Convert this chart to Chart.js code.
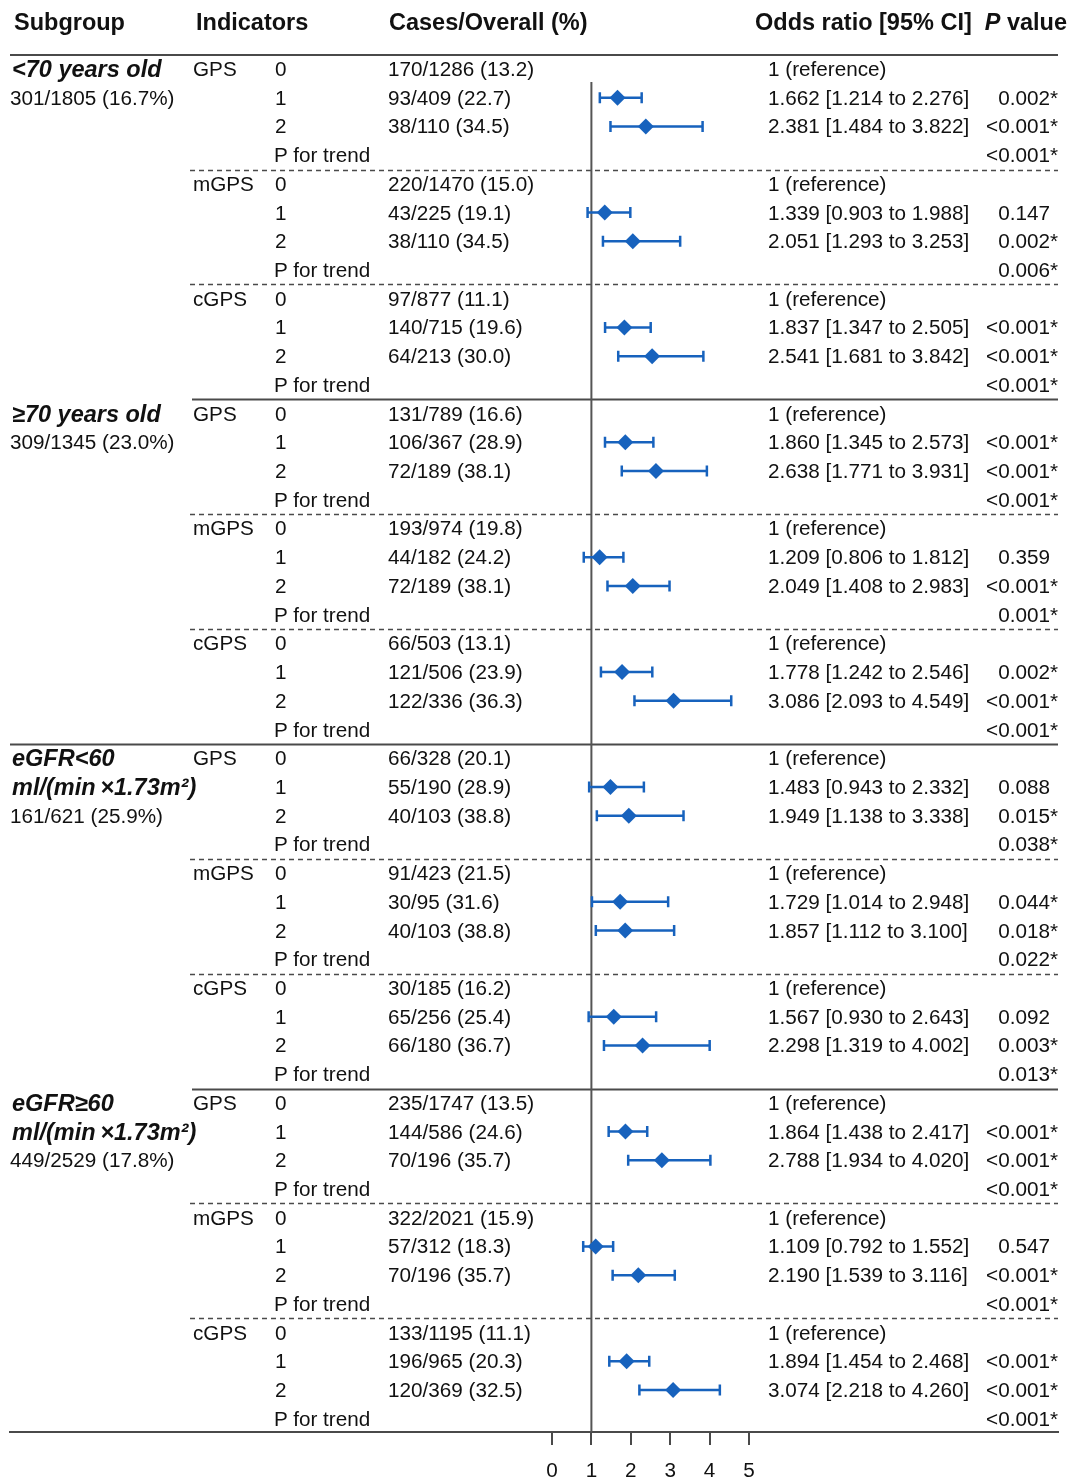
<!DOCTYPE html>
<html>
<head>
<meta charset="utf-8">
<script src="https://cdn.jsdelivr.net/npm/chart.js@4.4.0/dist/chart.umd.min.js"></script>
<style>
  html, body { margin: 0; padding: 0; background: #fff; }
  #wrap { position: relative; width: 1074px; height: 1479px; overflow: hidden;
          font-family: "Liberation Sans", Arial, sans-serif; color: #111; }
  #forest { position: absolute; left: 0; top: 0; }
  .t { position: absolute; white-space: nowrap; font-size: 20.7px; line-height: 28px; }
  .h { font-weight: bold; font-size: 23.5px; }
  .g { font-weight: bold; font-style: italic; font-size: 23.5px; }
  .hide { visibility: hidden; }
</style>
</head>
<body>
<div id="wrap">
  <canvas id="forest" width="1074" height="1479"></canvas>
</div>
<script>
// subgroups
const subgroupNames = ["<70 years old", "≥70 years old", "eGFR<60", "eGFR≥60"];
const subgroupUnits = ["", "", "ml/(min\u2009×1.73m²)", "ml/(min\u2009×1.73m²)"];
const subgroupCounts = ["301/1805 (16.7%)", "309/1345 (23.0%)", "161/621 (25.9%)", "449/2529 (17.8%)"];
const indicators = ["GPS", "mGPS", "cGPS"];
const levels = ["0", "1", "2", "P for trend"];

// cases/overall, per subgroup x indicator x level 0..2
const cases = [
  "170/1286 (13.2)", "93/409 (22.7)", "38/110 (34.5)",
  "220/1470 (15.0)", "43/225 (19.1)", "38/110 (34.5)",
  "97/877 (11.1)", "140/715 (19.6)", "64/213 (30.0)",
  "131/789 (16.6)", "106/367 (28.9)", "72/189 (38.1)",
  "193/974 (19.8)", "44/182 (24.2)", "72/189 (38.1)",
  "66/503 (13.1)", "121/506 (23.9)", "122/336 (36.3)",
  "66/328 (20.1)", "55/190 (28.9)", "40/103 (38.8)",
  "91/423 (21.5)", "30/95 (31.6)", "40/103 (38.8)",
  "30/185 (16.2)", "65/256 (25.4)", "66/180 (36.7)",
  "235/1747 (13.5)", "144/586 (24.6)", "70/196 (35.7)",
  "322/2021 (15.9)", "57/312 (18.3)", "70/196 (35.7)",
  "133/1195 (11.1)", "196/965 (20.3)", "120/369 (32.5)"
];

// odds ratios for level 1 and 2 of each block
const oddsRatio = [
  1.662, 2.381, 1.339, 2.051, 1.837, 2.541,
  1.860, 2.638, 1.209, 2.049, 1.778, 3.086,
  1.483, 1.949, 1.729, 1.857, 1.567, 2.298,
  1.864, 2.788, 1.109, 2.190, 1.894, 3.074
];
const ciLower = [
  1.214, 1.484, 0.903, 1.293, 1.347, 1.681,
  1.345, 1.771, 0.806, 1.408, 1.242, 2.093,
  0.943, 1.138, 1.014, 1.112, 0.930, 1.319,
  1.438, 1.934, 0.792, 1.539, 1.454, 2.218
];
const ciUpper = [
  2.276, 3.822, 1.988, 3.253, 2.505, 3.842,
  2.573, 3.931, 1.812, 2.983, 2.546, 4.549,
  2.332, 3.338, 2.948, 3.100, 2.643, 4.002,
  2.417, 4.020, 1.552, 3.116, 2.468, 4.260
];
const pValues = [
  "0.002*", "<0.001*", "0.147", "0.002*", "<0.001*", "<0.001*",
  "<0.001*", "<0.001*", "0.359", "<0.001*", "0.002*", "<0.001*",
  "0.088", "0.015*", "0.044*", "0.018*", "0.092", "0.003*",
  "<0.001*", "<0.001*", "0.547", "<0.001*", "<0.001*", "<0.001*"
];
const trendP = [
  "<0.001*", "0.006*", "<0.001*",
  "<0.001*", "0.001*", "<0.001*",
  "0.038*", "0.022*", "0.013*",
  "<0.001*", "<0.001*", "<0.001*"
];
const axisTicks = [0, 1, 2, 3, 4, 5];
const refValue = 1;

// layout
const BLUE = "#1762bd";
const LINE = "#4a4a4a";
const zeroPx = 552, unitPx = 39.4, plotLeft = 10, plotRight = 1058;
const rowTop = -0.487, rowBottom = 47.46, refStart = 0.45;
const col = { sub: 10, ind: 193, lvl: 274, cases: 388, or: 768, pRight: 1058 };

const nRows = subgroupNames.length * indicators.length * levels.length;

// points built from the arrays
const points = [];
oddsRatio.forEach((or, i) => {
  const block = Math.floor(i / 2);
  const lvl = (i % 2) + 1;
  points.push({ x: or, y: block * 4 + lvl, lo: ciLower[i], hi: ciUpper[i] });
});

// lines between indicator blocks and subgroups
const tableLines = {
  id: "tableLines",
  beforeDatasetsDraw(chart) {
    const { ctx, chartArea, scales } = chart;
    ctx.save();
    ctx.strokeStyle = LINE;
    ctx.lineWidth = 2;
    ctx.beginPath();
    ctx.moveTo(chartArea.left, chartArea.top);
    ctx.lineTo(chartArea.right, chartArea.top);
    ctx.stroke();
    for (let b = 1; b < nRows / 4; b++) {
      const y = Math.round(scales.y.getPixelForValue(b * 4 - 0.5)) + 0.5;
      ctx.beginPath();
      if (b % 6 === 0) {
        ctx.lineWidth = 2;
        ctx.setLineDash([]);
        ctx.moveTo(chartArea.left, y);
      } else if (b % 3 === 0) {
        ctx.lineWidth = 2;
        ctx.setLineDash([]);
        ctx.moveTo(192, y);
      } else {
        ctx.lineWidth = 1.5;
        ctx.setLineDash([5, 4]);
        ctx.moveTo(190, y);
      }
      ctx.lineTo(chartArea.right, y);
      ctx.stroke();
    }
    ctx.restore();
  }
};

// confidence interval whiskers
const errorBars = {
  id: "errorBars",
  beforeDatasetDraw(chart, args) {
    if (args.index !== 0) return;
    const { ctx, scales } = chart;
    ctx.save();
    ctx.strokeStyle = BLUE;
    ctx.lineWidth = 2.5;
    chart.data.datasets[0].data.forEach(p => {
      const y = scales.y.getPixelForValue(p.y);
      const x1 = scales.x.getPixelForValue(p.lo);
      const x2 = scales.x.getPixelForValue(p.hi);
      ctx.beginPath();
      ctx.moveTo(x1, y); ctx.lineTo(x2, y);
      ctx.moveTo(x1, y - 5.5); ctx.lineTo(x1, y + 5.5);
      ctx.moveTo(x2, y - 5.5); ctx.lineTo(x2, y + 5.5);
      ctx.stroke();
    });
    ctx.restore();
  }
};

Chart.defaults.font.family = '"Liberation Sans", Arial, sans-serif';

const chart = new Chart(document.getElementById("forest"), {
  type: "scatter",
  data: {
    datasets: [
      {
        label: "Odds ratio",
        data: points,
        pointStyle: "rectRot",
        pointRadius: 8,
        backgroundColor: BLUE,
        borderColor: BLUE,
        borderWidth: 0
      },
      {
        type: "line",
        label: "reference",
        data: [{ x: refValue, y: refStart }, { x: refValue, y: rowBottom }],
        borderColor: "#555",
        borderWidth: 2,
        pointRadius: 0,
        showLine: true
      }
    ]
  },
  options: {
    responsive: false,
    animation: false,
    layout: { padding: { top: 55, left: plotLeft, right: 1074 - plotRight, bottom: 0 } },
    plugins: { legend: { display: false }, tooltip: { enabled: false } },
    scales: {
      x: {
        type: "linear",
        min: -(zeroPx - plotLeft) / unitPx,
        max: (plotRight - zeroPx) / unitPx,
        afterBuildTicks: s => { s.ticks = axisTicks.map(v => ({ value: v })); },
        afterFit: s => { s.height = 47; },
        grid: { drawOnChartArea: false, color: LINE, lineWidth: 2, tickLength: 13 },
        border: { color: LINE, width: 2 },
        ticks: { font: { size: 20.7 }, color: "#111", padding: 14, maxRotation: 0 }
      },
      y: { type: "linear", reverse: true, min: rowTop, max: rowBottom, display: false }
    }
  },
  plugins: [tableLines, errorBars]
});

// text columns, placed on the chart's own row scale
const wrap = document.getElementById("wrap");
const ys = chart.scales.y;
function addText(html, x, cy, cls, right) {
  const d = document.createElement("div");
  d.className = "t" + (cls ? " " + cls : "");
  d.innerHTML = html;
  d.style.top = (cy - 14) + "px";
  if (right) d.style.right = (1074 - x) + "px";
  else d.style.left = x + "px";
  wrap.appendChild(d);
}
function esc(s) { return s.replace(/&/g, "&amp;").replace(/</g, "&lt;").replace(/>/g, "&gt;"); }
function pCell(s) {
  return s.endsWith("*") ? esc(s) : esc(s) + '<span class="hide">*</span>';
}

// header
addText("Subgroup", 14, 22, "h");
addText("Indicators", 196, 22, "h");
addText("Cases/Overall (%)", 389, 22, "h");
addText("Odds ratio [95% CI]", 755, 22, "h");
addText("<i>P</i> value", 1067, 22, "h", true);

subgroupNames.forEach((name, s) => {
  const base = s * 12;
  let r = base;
  addText(esc(name), col.sub + 2, ys.getPixelForValue(r++), "g");
  if (subgroupUnits[s]) addText(esc(subgroupUnits[s]), col.sub + 2, ys.getPixelForValue(r++), "g");
  addText(esc(subgroupCounts[s]), col.sub, ys.getPixelForValue(r), "");
  indicators.forEach((ind, k) => {
    const block = s * 3 + k;
    const row0 = block * 4;
    addText(ind, col.ind, ys.getPixelForValue(row0), "");
    levels.forEach((lv, l) => {
      const cy = ys.getPixelForValue(row0 + l);
      addText(lv, col.lvl + (l < 3 ? 1 : 0), cy, "");
      if (l < 3) addText(esc(cases[block * 3 + l]), col.cases, cy, "");
      if (l === 0) addText("1 (reference)", col.or, cy, "");
      if (l === 1 || l === 2) {
        const i = block * 2 + l - 1;
        addText(esc(oddsRatio[i].toFixed(3) + " [" + ciLower[i].toFixed(3) + " to " + ciUpper[i].toFixed(3) + "]"), col.or, cy, "");
        addText(pCell(pValues[i]), col.pRight, cy, "", true);
      }
      if (l === 3) addText(pCell(trendP[block]), col.pRight, cy, "", true);
    });
  });
});
</script>
</body>
</html>
